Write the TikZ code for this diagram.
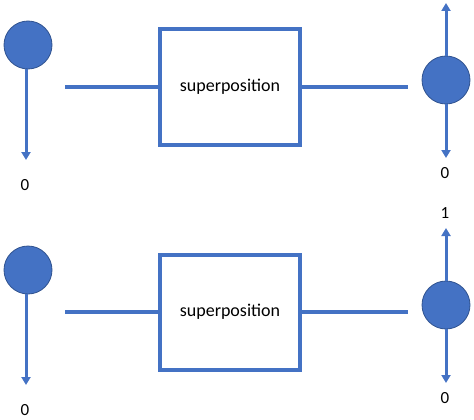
\documentclass[tikz,border=0pt]{standalone}
\usepackage{fontspec}
\setmainfont{Carlito}
\usetikzlibrary{arrows.meta}
\definecolor{oblue}{HTML}{4472C4}
\definecolor{oedge}{HTML}{2F528F}
\begin{document}
\begin{tikzpicture}[x=1pt,y=-1pt,
  qubit/.style={circle,fill=oblue,draw=oedge,line width=0.8pt,minimum size=48pt,inner sep=0pt},
  gate/.style={draw=oblue,line width=4pt,minimum width=140pt,minimum height=115pt,font=\fontsize{18}{21}\selectfont},
  wire/.style={draw=oblue,line width=3.5pt},
  vec/.style={draw=oblue,line width=3pt,-{Triangle[length=8pt,width=9pt]}},
  lab/.style={font=\fontsize{17}{20}\selectfont,inner sep=0pt}]
\useasboundingbox (0,0) rectangle (474,420);
\foreach \r/\dy in {a/0,b/225}{
  \node[qubit] (\r L) at (28,45+\dy) {};
  \node[gate] (\r G) at (230,87+\dy) {superposition};
  \node[qubit] (\r R) at (446,80+\dy) {};
  \coordinate (\r w1) at (65,87+\dy);
  \coordinate (\r w2) at (408,87+\dy);
  \coordinate (\r Ld) at (26,160+\dy);
  \coordinate (\r Rd) at (446,158+\dy);
  \coordinate (\r Ru) at (446,3+\dy);
  \node[lab] (\r l0) at (25,185+\dy) {0};
  \draw[wire] (\r w1) -- (\r G.west);
  \draw[wire] (\r G.east) -- (\r w2);
  \draw[vec] (\r L.south -| \r Ld) -- (\r Ld);
  \draw[vec] (\r R.south) -- (\r Rd);
  \draw[vec] (\r R.north) -- (\r Ru);
}
\node[lab] (ar0) at (445,173) {0};
\node[lab] (br1) at (445,213) {1};
\node[lab] (br0) at (445,398) {0};
\end{tikzpicture}
\end{document}
